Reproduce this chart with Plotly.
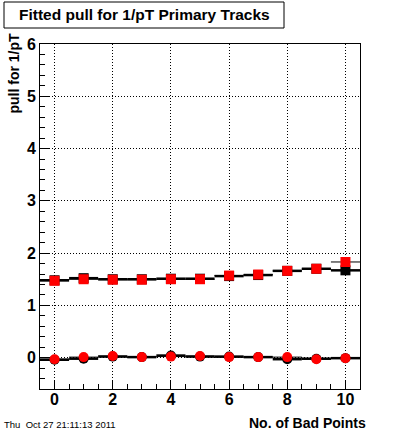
import plotly.graph_objects as go

bad_points = [0, 1, 2, 3, 4, 5, 6, 7, 8, 9, 10]
# upper group (squares)
sq_black = [1.48, 1.52, 1.50, 1.50, 1.51, 1.51, 1.56, 1.58, 1.66, 1.70, 1.67]
sq_red = [1.47, 1.50, 1.49, 1.49, 1.50, 1.50, 1.57, 1.59, 1.66, 1.70, 1.83]
# lower group (circles)
ci_black = [-0.04, -0.02, 0.02, 0.01, 0.04, 0.02, 0.02, 0.01, -0.03, -0.02, -0.01]
ci_red = [-0.03, 0.01, 0.03, 0.01, 0.02, 0.03, 0.01, 0.01, 0.01, -0.03, -0.01]

x_ticks = [0, 2, 4, 6, 8, 10]
y_ticks = [0, 1, 2, 3, 4, 5, 6]

FONT = "Liberation Sans, Arial, Helvetica, sans-serif"

fig = go.Figure()

def add(y, color, symbol, thick):
    fig.add_trace(go.Scatter(
        x=bad_points, y=y, mode="markers",
        marker=dict(color=color, symbol=symbol, size=10, line=dict(width=0)),
        error_x=dict(type="constant", value=0.5, color="black", thickness=thick, width=0),
        showlegend=False, hoverinfo="x+y",
    ))

add(sq_black, "black", "square", 2.5)
add(ci_black, "black", "circle", 2.5)
add(sq_red, "red", "square", 1)
add(ci_red, "red", "circle", 1)

axis_common = dict(
    showline=True, linecolor="black", linewidth=1, mirror=True,
    ticks="inside", tickcolor="black", ticklen=9, tickwidth=1,
    showgrid=True, gridcolor="black", griddash="1px,2px", gridwidth=1,
    zeroline=False,
    tickfont=dict(family=FONT, size=16, color="black", weight="bold"),
)

fig.update_xaxes(
    range=[-0.5, 10.5], tickvals=x_ticks, ticktext=[str(v) for v in x_ticks],
    ticklabelstandoff=-4,
    minor=dict(dtick=0.5, tick0=0, ticks="inside", ticklen=5, tickcolor="black", showgrid=False),
    **axis_common,
)
fig.update_yaxes(
    range=[-0.6, 6], tickvals=y_ticks, ticktext=[str(v) for v in y_ticks],
    minor=dict(dtick=0.2, tick0=0, ticks="inside", ticklen=5, tickcolor="black", showgrid=False),
    **axis_common,
)

L, R, T, B = 40, 40, 44, 44
W, H = 400, 433
pw, ph = W - L - R, H - T - B

def px(xp):
    return (xp - L) / pw

def py(yp):
    return (H - B - yp) / ph

fig.add_shape(type="rect", xref="paper", yref="paper",
              x0=px(4), x1=px(284), y0=py(28), y1=py(2),
              line=dict(color="black", width=1), fillcolor="white")

fig.add_annotation(xref="paper", yref="paper", x=px(144), y=py(15),
                   text="<b>Fitted pull for 1/pT Primary Tracks</b>", showarrow=False,
                   xanchor="center", yanchor="middle",
                   font=dict(family=FONT, size=15.5, color="black"))

fig.add_annotation(xref="paper", yref="paper", x=px(14), y=py(31),
                   text="<b>pull for 1/pT</b>", showarrow=False, textangle=-90,
                   xanchor="center", yanchor="top",
                   font=dict(family=FONT, size=14, color="black"))

fig.add_annotation(xref="paper", yref="paper", x=px(368), y=py(423),
                   text="<b>No. of Bad Points</b>", showarrow=False,
                   xanchor="right", yanchor="middle",
                   font=dict(family=FONT, size=14, color="black"))

fig.add_annotation(xref="paper", yref="paper", x=px(2), y=py(424),
                   text="Thu  Oct 27 21:11:13 2011", showarrow=False,
                   xanchor="left", yanchor="middle",
                   font=dict(family=FONT, size=9.5, color="black"))

fig.update_layout(
    width=W, height=H,
    margin=dict(l=L, r=R, t=T, b=B, pad=0),
    paper_bgcolor="white", plot_bgcolor="white",
    font=dict(family=FONT, color="black"),
)

fig.write_html("out.html", config={"displayModeBar": False},
               post_script="document.body.style.margin='0';document.body.style.padding='0';")
